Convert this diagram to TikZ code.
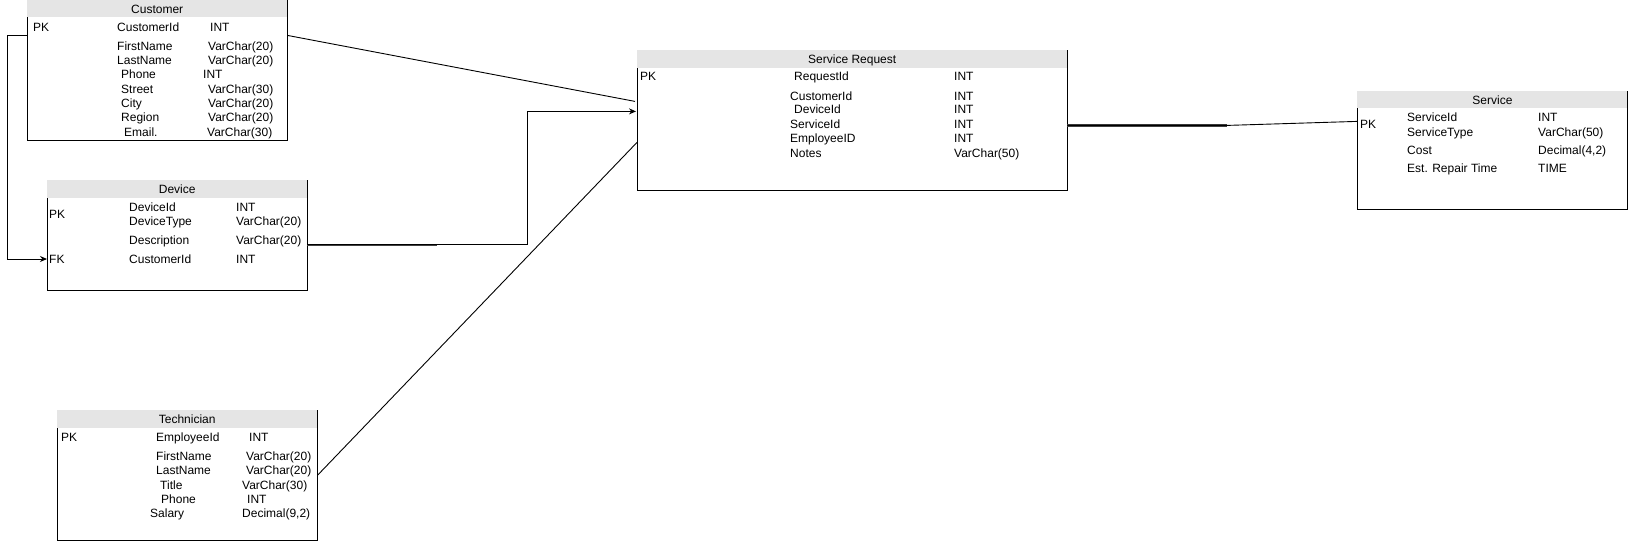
\documentclass[tikz,border=0pt]{standalone}
\usepackage{fontspec}
\setmainfont{Liberation Sans}
\usetikzlibrary{arrows.meta,calc}

\tikzset{
    hdr/.style={fill=gray!20, anchor=north west, inner sep=0pt, text height=8.6pt, text depth=0pt, font=\fontsize{12}{14}\selectfont},
    bdy/.style={anchor=north west, inner sep=0pt},
    fld/.style={anchor=west, inner sep=0pt, text height=8.6pt, text depth=0pt, font=\fontsize{12}{14}\selectfont},
    rel/.style={line width=0.9pt},
    relthick/.style={line width=2.2pt, draw=black!75},
    tip/.style={-{Stealth[length=7pt,width=6pt]}}
}

\begin{document}
\begin{tikzpicture}[x=1pt,y=-1pt]
        \useasboundingbox (0,0) rectangle (1628,541);

        % Customer
        \node[hdr, minimum width=260pt, minimum height=17pt] (cust) at (27,0) {Customer};
        \node[bdy, minimum width=260pt, minimum height=123pt] (custbody) at (cust.south west) {};
        \draw[rel] (cust.north east) -- (custbody.south east) -- (custbody.south west) -- (custbody.north west);
        \node[fld] (cust-pk) at (33,27) {PK};
        \foreach \fx/\fy/\f/\tx/\t [count=\i] in {117/27/CustomerId/210/INT, 117/46/FirstName/208/VarChar(20),
            117/60/LastName/208/VarChar(20), 121/74/Phone/203/INT, 121/89/Street/208/VarChar(30),
            121/103/City/208/VarChar(20), 121/117/Region/208/VarChar(20), 124/132/Email./207/VarChar(30)}
        {
            \node[fld] (cust-f\i) at (\fx,\fy) {\f};
            \node[fld] (cust-t\i) at (\tx,\fy) {\t};
        }

        % Device
        \node[hdr, minimum width=260pt, minimum height=18pt] (dev) at (47,180) {Device};
        \node[bdy, minimum width=260pt, minimum height=92pt] (devbody) at (dev.south west) {};
        \draw[rel] (dev.north east) -- (devbody.south east) -- (devbody.south west) -- (devbody.north west);
        \node[fld] (dev-pk) at (49,214) {PK};
        \node[fld] (dev-fk) at (49,259) {FK};
        \foreach \fy/\f/\t [count=\i] in {207/DeviceId/INT, 221/DeviceType/VarChar(20),
            240/Description/VarChar(20), 259/CustomerId/INT}
        {
            \node[fld] (dev-f\i) at (129,\fy) {\f};
            \node[fld] (dev-t\i) at (236,\fy) {\t};
        }

        % Technician
        \node[hdr, minimum width=260pt, minimum height=18pt] (tech) at (57,410) {Technician};
        \node[bdy, minimum width=260pt, minimum height=112pt] (techbody) at (tech.south west) {};
        \draw[rel] (tech.north east) -- (techbody.south east) -- (techbody.south west) -- (techbody.north west);
        \node[fld] (tech-pk) at (61,437) {PK};
        \foreach \fx/\fy/\f/\tx/\t [count=\i] in {156/437/EmployeeId/249/INT, 156/456/FirstName/246/VarChar(20),
            156/470/LastName/246/VarChar(20), 160/485/Title/242/VarChar(30), 161/499/Phone/247/INT,
            150/513/Salary/242/{Decimal(9,2)}}
        {
            \node[fld] (tech-f\i) at (\fx,\fy) {\f};
            \node[fld] (tech-t\i) at (\tx,\fy) {\t};
        }

        % Service Request
        \node[hdr, minimum width=430pt, minimum height=18pt] (sr) at (637,50) {Service Request};
        \node[bdy, minimum width=430pt, minimum height=122pt] (srbody) at (sr.south west) {};
        \draw[rel] (sr.north east) -- (srbody.south east) -- (srbody.south west) -- (srbody.north west);
        \node[fld] (sr-pk) at (640,76) {PK};
        \foreach \fx/\fy/\f/\t [count=\i] in {794/76/RequestId/INT, 790/96/CustomerId/INT, 794/109/DeviceId/INT,
            790/124/ServiceId/INT, 790/138/EmployeeID/INT, 790/153/Notes/VarChar(50)}
        {
            \node[fld] (sr-f\i) at (\fx,\fy) {\f};
            \node[fld] (sr-t\i) at (954,\fy) {\t};
        }

        % Service
        \node[hdr, minimum width=270.5pt, minimum height=17pt] (serv) at (1357,91) {Service};
        \node[bdy, minimum width=270.5pt, minimum height=101pt] (servbody) at (serv.south west) {};
        \draw[rel] (serv.north east) -- (servbody.south east) -- (servbody.south west) -- (servbody.north west);
        \node[fld] (serv-pk) at (1360,124) {PK};
        \foreach \fy/\f/\t [count=\i] in {117/ServiceId/INT, 132/ServiceType/VarChar(50),
            150/Cost/{Decimal(4,2)}, 168/Est. Repair Time/TIME}
        {
            \node[fld] (serv-f\i) at (1407,\fy) {\f};
            \node[fld] (serv-t\i) at (1538,\fy) {\t};
        }

        % relations
        \draw[rel] ($(custbody.north east)+(0,18)$) -- ($(srbody.north west)+(-2,33)$);
        \draw[rel,tip] ($(custbody.north west)+(0,18)$) -- ++(-20,0) |- (devbody.west |- dev-fk);
        \draw[relthick] (devbody.east) -- ++(130,0);
        \draw[rel,tip] (devbody.east) -- ++(220,0) |- ($(srbody.north west)+(-1,43)$);
        \draw[rel] ($(techbody.north east)+(0,47)$) -- ($(srbody.north west)+(0,74)$);
        \draw[relthick] ($(srbody.north east)+(0,57)$) -- ++(160,0);
        \draw[rel] ($(srbody.north east)+(0,57)$) -- ++(160,0) -- ($(servbody.north west)+(0,13)$);
    \end{tikzpicture}
\end{document}
